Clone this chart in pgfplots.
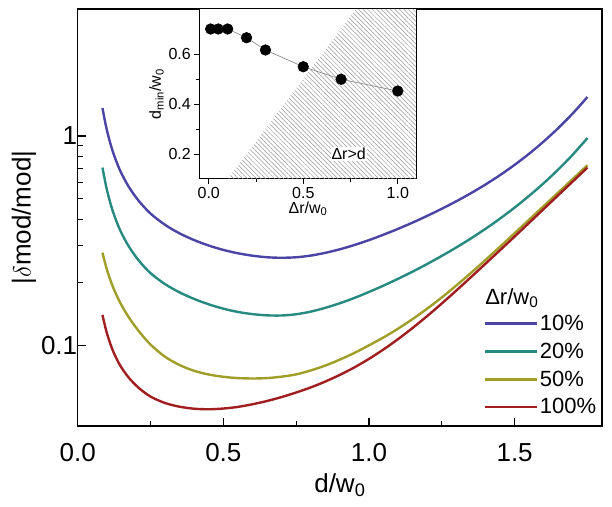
\documentclass[border=0pt]{standalone}
\usepackage{pgfplots}
\pgfplotsset{compat=1.18}
\usepackage{fontspec}
\setmainfont{Liberation Sans}
\usetikzlibrary{patterns,patterns.meta,calc}
\definecolor{cblue}{RGB}{74,68,165}
\definecolor{cteal}{RGB}{38,138,128}
\definecolor{colive}{RGB}{160,158,40}
\definecolor{cred}{RGB}{160,30,32}
\begin{document}
\begin{tikzpicture}
\begin{axis}[
  name=main,
  scale only axis,
  width=524.3pt, height=417pt,
  xmin=0, xmax=1.8,
  ymode=log, ymin=0.041, ymax=4.05,
  axis line style={line width=1.2pt},
  every tick/.style={black, line width=1.1pt},
  major tick length=8pt, minor tick length=5pt,
  tick align=inside,
  xtick pos=left, ytick pos=left,
  xtick={0,0.5,1,1.5}, minor x tick num=1,
  ytick={0.1,1}, yticklabels={0.1,1},
  /pgf/number format/assume math mode=true,
  xticklabel style={/pgf/number format/.cd, fixed, fixed zerofill, precision=1},
  xticklabel shift=14pt,
  yticklabel style={xshift=3pt},
  tick label style={font=\fontsize{26}{28}\selectfont},
  xlabel={d/w\textsubscript{0}},
  ylabel={|$\delta$mod/mod|},
  label style={font=\fontsize{26}{28}\selectfont},
  xlabel style={yshift=-5pt},
  ylabel style={yshift=-2pt},
  legend style={draw=none, fill=none, at={(rel axis cs:0.995,0.274)}, anchor=north east,
    font=\fontsize{22}{24}\selectfont, row sep=7pt, inner sep=1pt, cells={anchor=west}},
  legend image code/.code={\draw[#1, line width=2.8pt] (0pt,0pt) -- (52pt,0pt);},
  every axis plot/.append style={line width=2.4pt, smooth},
]
\addplot[cblue] coordinates {
(0.085,1.3614) (0.10,1.0693) (0.12,0.8463) (0.145,0.6863) (0.175,0.5723) (0.21,0.4887) (0.25,0.4256) (0.30,0.3758) (0.35,0.3420) (0.40,0.3177) (0.45,0.2992) (0.50,0.2851) (0.55,0.2748) (0.60,0.2676) (0.65,0.2630) (0.70,0.2615) (0.75,0.2630) (0.80,0.2679) (0.85,0.2761) (0.90,0.2871) (0.95,0.3010) (1.00,0.3177) (1.05,0.3373) (1.10,0.3597) (1.15,0.3855) (1.20,0.4150) (1.25,0.4487) (1.30,0.4875) (1.35,0.5326) (1.40,0.5861) (1.45,0.6501) (1.50,0.7278) (1.55,0.8231) (1.60,0.9419) (1.65,1.0914) (1.70,1.2837) (1.75,1.5367)};
\addlegendentry{10\%}
\addplot[cteal] coordinates {
(0.085,0.7063) (0.10,0.5547) (0.12,0.4390) (0.145,0.3560) (0.175,0.2969) (0.21,0.2535) (0.25,0.2208) (0.30,0.1956) (0.35,0.1786) (0.40,0.1661) (0.45,0.1566) (0.50,0.1493) (0.55,0.1440) (0.60,0.1406) (0.65,0.1387) (0.70,0.1385) (0.75,0.1404) (0.80,0.1445) (0.85,0.1507) (0.90,0.1585) (0.95,0.1680) (1.00,0.1795) (1.05,0.1925) (1.10,0.2075) (1.15,0.2246) (1.20,0.2443) (1.25,0.2670) (1.30,0.2931) (1.35,0.3236) (1.40,0.3597) (1.45,0.4027) (1.50,0.4545) (1.55,0.5176) (1.60,0.5949) (1.65,0.6918) (1.70,0.8155) (1.75,0.9772)};
\addlegendentry{20\%}
\addplot[colive] coordinates {
(0.085,0.2767) (0.10,0.2302) (0.12,0.1912) (0.145,0.1603) (0.175,0.1360) (0.21,0.1165) (0.25,0.1005) (0.30,0.0879) (0.35,0.0802) (0.40,0.0753) (0.45,0.0723) (0.50,0.0705) (0.55,0.0695) (0.60,0.0692) (0.65,0.0695) (0.70,0.0706) (0.75,0.0724) (0.80,0.0756) (0.85,0.0798) (0.90,0.0852) (0.95,0.0917) (1.00,0.0997) (1.05,0.1088) (1.10,0.1198) (1.15,0.1332) (1.20,0.1494) (1.25,0.1690) (1.30,0.1928) (1.35,0.2213) (1.40,0.2553) (1.45,0.2955) (1.50,0.3428) (1.55,0.3981) (1.60,0.4624) (1.65,0.5370) (1.70,0.6237) (1.75,0.7244)};
\addlegendentry{50\%}
\addplot[cred] coordinates {
(0.085,0.1394) (0.10,0.1143) (0.12,0.0946) (0.145,0.0802) (0.175,0.0699) (0.21,0.0623) (0.25,0.0567) (0.30,0.0528) (0.35,0.0507) (0.40,0.0496) (0.45,0.0493) (0.50,0.0497) (0.55,0.0506) (0.60,0.0521) (0.65,0.0540) (0.70,0.0564) (0.75,0.0593) (0.80,0.0627) (0.85,0.0669) (0.90,0.0720) (0.95,0.0782) (1.00,0.0859) (1.05,0.0953) (1.10,0.1068) (1.15,0.1208) (1.20,0.1377) (1.25,0.1581) (1.30,0.1824) (1.35,0.2112) (1.40,0.2449) (1.45,0.2844) (1.50,0.3304) (1.55,0.3847) (1.60,0.4478) (1.65,0.5213) (1.70,0.6068) (1.75,0.7064)};
\addlegendentry{100\%}
\node[font=\fontsize{22}{24}\selectfont] at (rel axis cs:0.828,0.307) {Δr/w\textsubscript{0}};
\end{axis}
\begin{axis}[
  name=inset,
  at={($(main.north west)+(121.6pt,0)$)}, anchor=north west,
  scale only axis,
  width=217.4pt, height=170pt,
  axis background/.style={fill=white},
  xmin=-0.05, xmax=1.1, ymin=0.1, ymax=0.78,
  axis line style={line width=1pt},
  every tick/.style={black, line width=0.9pt},
  major tick length=5pt, minor tick length=3pt,
  tick align=outside,
  xtick pos=left, ytick pos=left,
  xtick={0,0.5,1}, ytick={0.2,0.4,0.6},
  minor x tick num=1, minor y tick num=1,
  /pgf/number format/assume math mode=true,
  tick label style={font=\fontsize{16}{18}\selectfont, /pgf/number format/.cd, fixed, fixed zerofill, precision=1},
  xlabel={Δr/w\textsubscript{0}},
  ylabel={d\textsubscript{min}/w\textsubscript{0}},
  label style={font=\fontsize{16}{18}\selectfont},
  xlabel style={yshift=4pt},
  ylabel style={yshift=-2pt},
]
\addplot[draw=none, pattern={Lines[angle=-45, distance=3.2pt, line width=0.5pt]}, pattern color=gray!80] coordinates {(0.1,0.1) (0.78,0.78) (1.1,0.78) (1.1,0.1) (0.1,0.1)};
\addplot[gray, line width=0.6pt, mark=*, mark size=5.3pt, mark options={black, fill=black}] coordinates {
(0.01,0.70) (0.05,0.70) (0.1,0.70) (0.2,0.665) (0.3,0.616) (0.5,0.549) (0.7,0.499) (1.0,0.452)};
\node[fill=white, inner sep=1pt, font=\fontsize{16}{18}\selectfont] at (axis cs:0.74,0.2) {Δr>d};
\end{axis}
\pgfresetboundingbox
\path ($(main.south west)+(-77.7pt,-80pt)$) rectangle ($(main.north east)+(10pt,9pt)$);
\end{tikzpicture}
\end{document}
